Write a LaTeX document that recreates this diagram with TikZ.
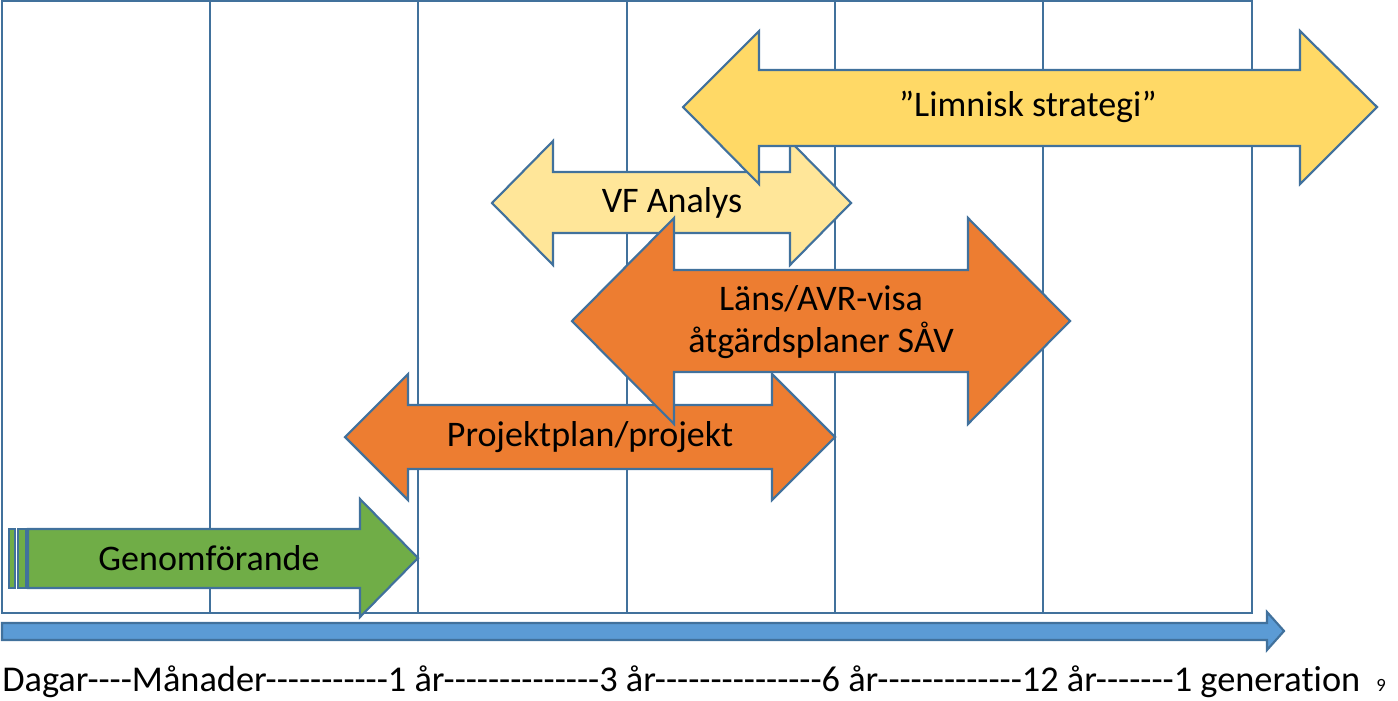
\documentclass[tikz,border=0pt]{standalone}
\usepackage{fontspec}
\setmainfont{Carlito}[Ligatures={TeXOff,NoCommon}]
\definecolor{rim}{HTML}{41719C}
\definecolor{axisblue}{HTML}{5B9BD5}
\definecolor{greenbox}{HTML}{70AD47}
\definecolor{orangebox}{HTML}{ED7D31}
\definecolor{goldbox}{HTML}{FFD966}
\definecolor{paleyellow}{HTML}{FFE699}
\tikzset{
    shapeline/.style={draw=rim, line width=1.6pt, line join=miter},
    label/.style={font=\fontsize{27}{32}\selectfont, align=center, inner sep=0pt}
}
\begin{document}
\begin{tikzpicture}[x=0.75pt,y=-0.75pt]
            \useasboundingbox (0,0) rectangle (1398,700);
            % frame and columns
            \draw[shapeline] (2,1) rectangle (1252,613);
            \foreach \x in {210,418,627,835,1043}
                \draw[shapeline] (\x,1) -- (\x,613);
            % time axis
            \filldraw[shapeline, fill=axisblue] (2,623) -- (1267,623) -- (1267,612) -- (1284,631) -- (1267,650) -- (1267,640) -- (2,640) -- cycle;
            \begin{scope}[shapeline]
                \filldraw[fill=greenbox] (9,529) rectangle (15,588);
                \filldraw[fill=greenbox] (18,529) rectangle (26,588);
                \filldraw[fill=greenbox] (28,529) -- (360,529) -- (360,499) -- (418,558) -- (360,617) -- (360,588) -- (28,588) -- cycle;
                \filldraw[fill=orangebox] (345,437) -- (408,374) -- (408,405) -- (772,405) -- (772,374) -- (835,437) -- (772,500) -- (772,469) -- (408,469) -- (408,500) -- cycle;
                \filldraw[fill=paleyellow] (492,203) -- (553,141) -- (553,172) -- (790,172) -- (790,141) -- (851,203) -- (790,265) -- (790,233) -- (553,233) -- (553,265) -- cycle;
                \filldraw[fill=orangebox] (572,321) -- (674,218) -- (674,270) -- (968,270) -- (968,218) -- (1070,321) -- (968,424) -- (968,372) -- (674,372) -- (674,424) -- cycle;
                \filldraw[fill=goldbox] (683,107) -- (759,31) -- (759,70) -- (1300,70) -- (1300,31) -- (1377,107) -- (1300,184) -- (1300,146) -- (759,146) -- (759,184) -- cycle;
            \end{scope}
            \node[label] (genom) at (209,558) {Genomförande};
            \node[label] (projekt) at (590,437) {Projektplan/projekt};
            \node[label] (vfanalys) at (672,203) {VF Analys};
            \node[label] (lans) at (821,322) {Läns/AVR-visa\\åtgärdsplaner SÅV};
            \node[label] (limnisk) at (1028,107) {”Limnisk strategi”};
            \node[label, font=\fontsize{27.25}{32}\selectfont, anchor=base west] (axislabel) at (2,691) {Dagar----Månader-----------1 år--------------3 år---------------6 år-------------12 år-------1 generation};
            \node[font=\fontsize{14}{16}\selectfont, anchor=base west, inner sep=0pt] (pagenum) at (1376,691) {9};
        \end{tikzpicture}
\end{document}
